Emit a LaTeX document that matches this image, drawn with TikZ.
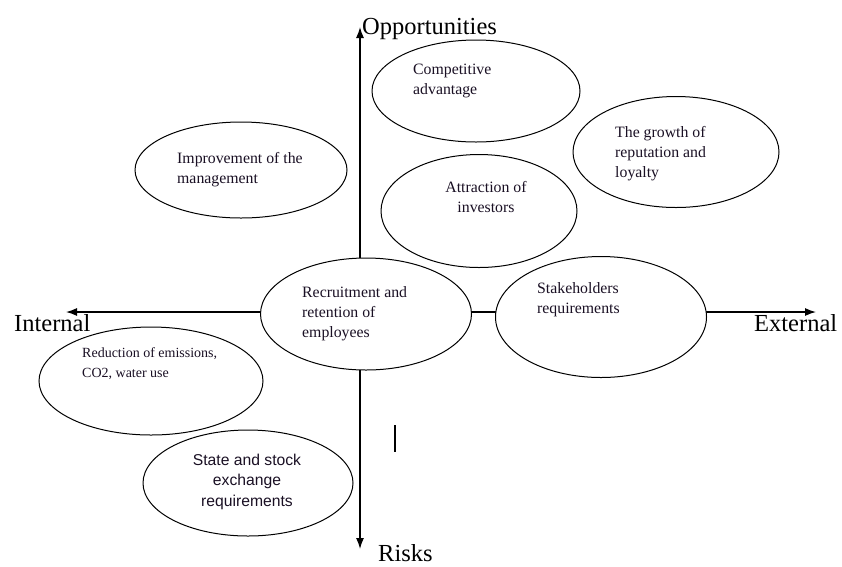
\documentclass[tikz,border=0pt]{standalone}
\usepackage{fontspec}
\setmainfont{Liberation Serif}
\newfontfamily\arialfont{Liberation Sans}
\usetikzlibrary{shapes.geometric,arrows.meta}
\definecolor{txt}{HTML}{1A1024}
\tikzset{
  bubble/.style={ellipse, draw=black, line width=1pt, fill=white, inner sep=0pt},
  btext/.style={inner sep=0pt, align=left, text=txt, font=\fontsize{15.8}{20}\selectfont},
  axislabel/.style={inner sep=0pt, anchor=base west, font=\fontsize{24.5}{28}\selectfont},
  axis/.style={line width=1.3pt, {Latex[length=11pt,width=8pt]}-{Latex[length=11pt,width=8pt]}}
}
\begin{document}
\begin{tikzpicture}[x=1pt,y=-1pt]
\useasboundingbox[fill=white] (0,0) rectangle (842,566);
% axes
\coordinate (vtop) at (360,27);
\coordinate (vbot) at (360,549);
\coordinate (hl) at (66,312);
\coordinate (hr) at (816,312);
\draw[axis] (vbot) -- (vtop);
\draw[axis] (hl) -- (hr);
% axis labels
\node[axislabel] (opp) at (362,34) {Opportunities};
\node[axislabel] (int) at (14,331) {Internal};
\node[axislabel] (ext) at (754,331) {External};
\node[axislabel] (risk) at (378,561) {Risks};
% ellipses
\node[bubble, minimum width=208pt, minimum height=102pt] (comp) at (476,91) {};
\node[bubble, minimum width=206pt, minimum height=111pt] (grow) at (676,152) {};
\node[bubble, minimum width=212pt, minimum height=96pt] (impr) at (241,170) {};
\node[bubble, minimum width=196pt, minimum height=113pt] (attr) at (479,211) {};
\node[bubble, minimum width=211pt, minimum height=112pt] (recr) at (366,314) {};
\node[bubble, minimum width=211pt, minimum height=121pt] (stak) at (601,317) {};
\node[bubble, minimum width=224pt, minimum height=108pt] (redu) at (151,381) {};
\node[bubble, minimum width=210pt, minimum height=106pt] (stat) at (248,483) {};
% texts
\node[btext, anchor=north west] (tcomp) at (413,64) {Competitive\\advantage};
\node[btext, anchor=north west] (tgrow) at (615,126) {The growth of\\reputation and\\loyalty};
\node[btext, anchor=north west] (timpr) at (177,152) {Improvement of the\\management};
\node[btext, anchor=north, align=center] (tattr) at (486,181) {Attraction of\\investors};
\node[btext, anchor=north west] (trecr) at (302,286) {Recruitment and\\retention of\\employees};
\node[btext, anchor=north west] (tstak) at (537,282) {Stakeholders\\requirements};
\node[btext, anchor=north west, font=\fontsize{14}{20}\selectfont] (tredu) at (82,347) {Reduction of emissions,\\CO2, water use};
\node[btext, anchor=north, align=center, font=\arialfont\fontsize{15.7}{20.5}\selectfont] (tstat) at (247,453.5) {State and stock\\exchange\\requirements};
% stray cursor mark
\coordinate (c1) at (395,425);
\coordinate (c2) at (395,452);
\draw[line width=2.2pt] (c1) -- (c2);
\end{tikzpicture}
\end{document}
